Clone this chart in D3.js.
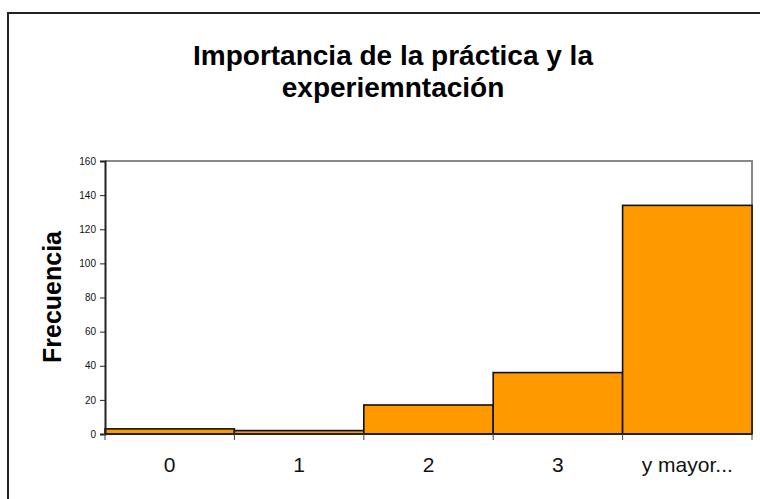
<!DOCTYPE html>
<html>
<head>
<meta charset="utf-8">
<script src="https://cdn.jsdelivr.net/npm/d3@7"></script>
<style>
  body { margin: 0; background: #fff; }
  svg { display: block; font-family: Arial, "Liberation Sans", sans-serif; }
</style>
</head>
<body>
<div id="chart"></div>
<script>
// data
const categories = ['0', '1', '2', '3', 'y mayor...'];
const frequencies = [3, 2, 17, 36, 134];
const yTicks = [0, 20, 40, 60, 80, 100, 120, 140, 160];
const titleLines = ['Importancia de la práctica y la', 'experiemntación'];

const width = 760, height = 499;
const margin = { top: 161, right: 8, bottom: 65, left: 105 };
const innerWidth = width - margin.left - margin.right;
const innerHeight = height - margin.top - margin.bottom;

const svg = d3.select('#chart')
  .append('svg')
  .attr('width', width)
  .attr('height', height);

// outer chart frame (runs off the right and bottom edge)
svg.append('rect')
  .attr('x', 8).attr('y', 13)
  .attr('width', 800).attr('height', 600)
  .attr('fill', '#fff')
  .attr('stroke', '#222')
  .attr('stroke-width', 2);

// title, two lines centred on the whole chart frame
svg.append('g').selectAll('text')
  .data(titleLines)
  .enter()
  .append('text')
  .attr('x', 393)
  .attr('y', (d, i) => 65 + i * 32)
  .attr('text-anchor', 'middle')
  .attr('font-size', '28px')
  .attr('font-weight', 'bold')
  .attr('fill', '#000')
  .text(d => d);

const g = svg.append('g')
  .attr('transform', `translate(${margin.left},${margin.top})`);

const x = d3.scaleBand()
  .domain(categories)
  .range([0, innerWidth])
  .padding(0);

const y = d3.scaleLinear()
  .domain([0, 160])
  .range([innerHeight, 0]);

// plot area border (gray top and right)
g.append('path')
  .attr('d', `M0,0H${innerWidth}V${innerHeight}`)
  .attr('fill', 'none')
  .attr('stroke', '#888')
  .attr('stroke-width', 2);

// bars
g.selectAll('.bar')
  .data(frequencies)
  .enter()
  .append('rect')
  .attr('class', 'bar')
  .attr('x', (d, i) => x(categories[i]))
  .attr('y', d => y(d))
  .attr('width', x.bandwidth())
  .attr('height', d => innerHeight - y(d))
  .attr('fill', '#ff9900')
  .attr('stroke', '#111')
  .attr('stroke-width', 1.6);

// y axis
const yAxis = g.append('g')
  .call(d3.axisLeft(y).tickValues(yTicks).tickSize(5).tickPadding(4));
yAxis.select('.domain').attr('stroke', '#222').attr('stroke-width', 2);
yAxis.selectAll('.tick line').attr('stroke', '#222');
yAxis.selectAll('text')
  .attr('font-size', '10px')
  .attr('font-family', 'Arial, "Liberation Sans", sans-serif')
  .attr('fill', '#111');

// x axis: ticks at bin boundaries, labels centred under bars
const xAxis = g.append('g')
  .attr('transform', `translate(0,${innerHeight})`);
xAxis.append('line')
  .attr('x1', 0).attr('x2', innerWidth)
  .attr('stroke', '#222').attr('stroke-width', 2);
const bounds = categories.map(c => x(c)).concat([innerWidth]);
xAxis.selectAll('.xtick')
  .data(bounds)
  .enter()
  .append('line')
  .attr('x1', d => d).attr('x2', d => d)
  .attr('y1', 0).attr('y2', 6)
  .attr('stroke', '#444');
xAxis.selectAll('.xlabel')
  .data(categories)
  .enter()
  .append('text')
  .attr('x', d => x(d) + x.bandwidth() / 2)
  .attr('y', 38)
  .attr('text-anchor', 'middle')
  .attr('font-size', '21px')
  .attr('fill', '#111')
  .text(d => d);

// y axis title
svg.append('text')
  .attr('transform', 'translate(61,297) rotate(-90)')
  .attr('text-anchor', 'middle')
  .attr('font-size', '25px')
  .attr('font-weight', 'bold')
  .text('Frecuencia');
</script>
</body>
</html>
